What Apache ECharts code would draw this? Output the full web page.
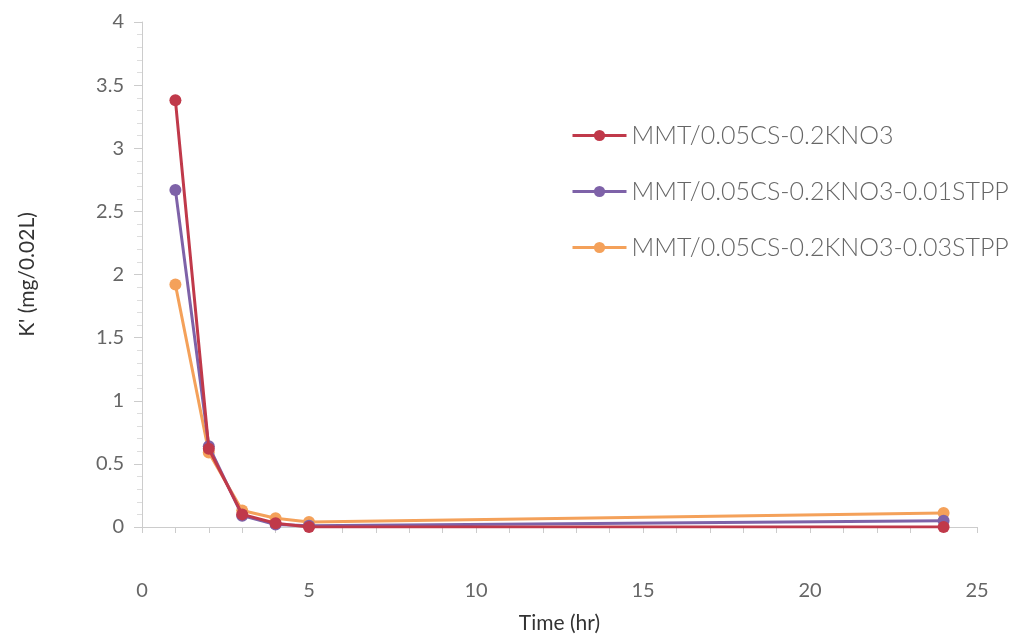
<!DOCTYPE html>
<html><head><meta charset="utf-8">
<script src="https://cdn.jsdelivr.net/npm/echarts@6/dist/echarts.min.js"></script>
<style>html,body{margin:0;padding:0;background:#fff}#c{width:1014px;height:640px}</style>
</head><body><div id="c"></div>
<script>
const times = [1, 2, 3, 4, 5, 24];
const seriesNames = ['MMT/0.05CS-0.2KNO3', 'MMT/0.05CS-0.2KNO3-0.01STPP', 'MMT/0.05CS-0.2KNO3-0.03STPP'];
const redVals = [3.38, 0.62, 0.10, 0.03, 0.00, 0.00];
const purpleVals = [2.67, 0.64, 0.09, 0.02, 0.01, 0.05];
const orangeVals = [1.92, 0.59, 0.13, 0.07, 0.04, 0.11];
const colors = ['#C0394A', '#7E62A8', '#F4A15A'];
const xTicks = [0, 5, 10, 15, 20, 25];
const yTicks = [0, 0.5, 1, 1.5, 2, 2.5, 3, 3.5, 4];

const chart = echarts.init(document.getElementById('c'));
const allVals = [redVals, purpleVals, orangeVals];
const font = 'Lato, "DejaVu Sans", sans-serif';
chart.setOption({
  animation: false,
  backgroundColor: '#fff',
  grid: {left: 142, right: 37, top: 22, bottom: 113, containLabel: false, outerBoundsMode: 'none'},
  legend: {
    orient: 'vertical', left: 566, top: 118, itemGap: 31,
    itemWidth: 54, itemHeight: 14, itemGap: 31,
    lineStyle: {width: 3},
    textStyle: {fontFamily: font, fontSize: 25, color: '#666', fontWeight: 300},
    data: seriesNames
  },
  xAxis: {
    type: 'value', min: 0, max: 25, interval: 5,
    name: 'Time (hr)', nameLocation: 'middle', nameGap: 86,
    nameTextStyle: {fontFamily: font, fontSize: 21, color: '#333'},
    axisLine: {show: true, lineStyle: {color: '#ccc', width: 1}},
    axisTick: {show: true, length: 6, lineStyle: {color: '#ccc'}},
    minorTick: {show: true, splitNumber: 5, length: 6, lineStyle: {color: '#ccc'}},
    splitLine: {show: false},
    axisLabel: {margin: 54, fontFamily: font, fontSize: 20, color: '#666',
      formatter: v => xTicks.includes(v) ? String(v) : ''}
  },
  yAxis: {
    type: 'value', min: 0, max: 4, interval: 0.5,
    name: "K' (mg/0.02L)", nameLocation: 'middle', nameGap: 104,
    nameTextStyle: {fontFamily: font, fontSize: 21, color: '#333'},
    axisLine: {show: true, lineStyle: {color: '#ccc', width: 1}},
    axisTick: {show: true, length: 8, lineStyle: {color: '#ccc'}},
    minorTick: {show: true, splitNumber: 5, length: 5, lineStyle: {color: '#ddd'}},
    splitLine: {show: false},
    axisLabel: {margin: 18, fontFamily: font, fontSize: 20, color: '#666',
      formatter: v => yTicks.includes(v) ? String(v) : ''}
  },
  series: seriesNames.map((n, i) => ({
    name: n, type: 'line',
    data: times.map((t, j) => [t, allVals[i][j]]),
    symbol: 'circle', symbolSize: 12,
    lineStyle: {width: 3, color: colors[i]},
    itemStyle: {color: colors[i]},
    z: 3 - i
  }))
});
</script></body></html>
